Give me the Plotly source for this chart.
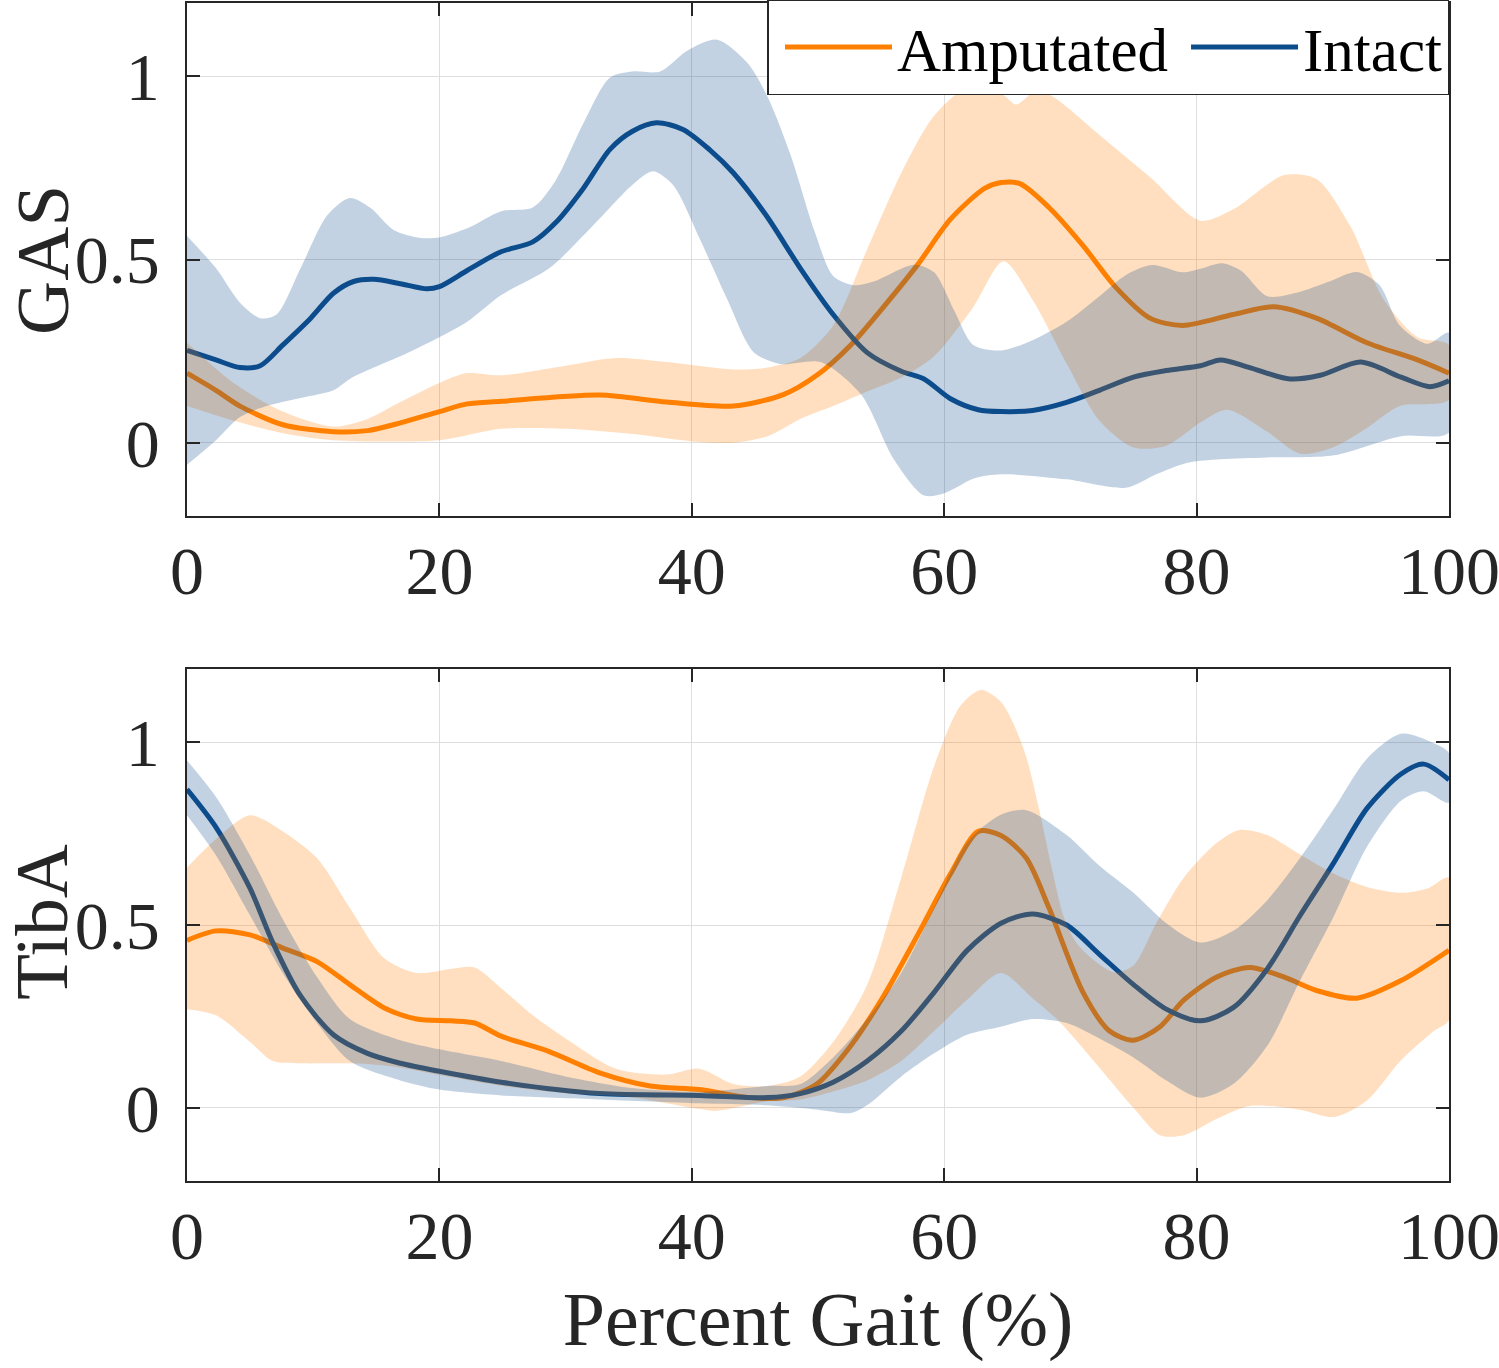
import plotly.graph_objects as go
from plotly.subplots import make_subplots

# ---------------- GAS (top) ----------------
gas_int_x = [0, 2.3, 4.2, 5.8, 7.6, 9.8, 11.6, 13.2, 14.8, 16.9, 19, 20, 22.2, 24.8, 27.4, 29.2, 31.4, 33.5,
             35.3, 37.2, 39.3, 41.4, 43.3, 45.9, 48.6, 51.2, 53.9, 56.6, 58.4, 60.5, 62.7, 64.5, 67, 69.7,
             72.3, 75, 77.6, 80.3, 81.9, 84.2, 87.4, 89.8, 93, 96.2, 98.5, 100]
gas_int_y = [0.252, 0.226, 0.205, 0.21, 0.267, 0.34, 0.408, 0.44, 0.446, 0.434, 0.42, 0.426, 0.47, 0.52,
             0.548, 0.60, 0.694, 0.80, 0.85, 0.873, 0.855, 0.80, 0.736, 0.62, 0.476, 0.35, 0.246, 0.195,
             0.174, 0.12, 0.09, 0.085, 0.088, 0.11, 0.143, 0.179, 0.197, 0.21, 0.226, 0.205, 0.174, 0.184,
             0.22, 0.179, 0.153, 0.169]

gas_int_up_x = [0, 2.3, 4.2, 5.8, 7.1, 9, 11.1, 12.9, 14.5, 16.4, 18.5, 20, 22.2, 24.9, 27.4, 29.2, 31.4,
                33.5, 35.3, 37.5, 39.6, 42, 44.4, 46, 47.8, 49.7, 51.2, 52.8, 54.4, 57.6, 59.2, 60.8, 62.3,
                64.5, 67, 69.7, 72.3, 74.5, 76.5, 78.9, 80.3, 82, 83.5, 85.6, 88, 90.5, 92.7, 94.5, 96.1,
                98.3, 100]
gas_int_up_y = [0.564, 0.476, 0.382, 0.34, 0.35, 0.476, 0.62, 0.668, 0.642, 0.58, 0.559, 0.56, 0.585,
                0.632, 0.642, 0.715, 0.871, 0.996, 1.013, 1.013, 1.069, 1.10, 1.037, 0.944, 0.788, 0.58,
                0.455, 0.43, 0.44, 0.486, 0.465, 0.36, 0.267, 0.252, 0.28, 0.33, 0.40, 0.46, 0.485, 0.465,
                0.475, 0.49, 0.47, 0.40, 0.41, 0.44, 0.466, 0.43, 0.32, 0.27, 0.30]

gas_int_lo_x = [0, 2.3, 4.2, 6.3, 9, 11.6, 12.9, 14.8, 16.9, 20, 22.2, 24.9, 28.7, 32.1, 35.3, 36.9, 38.5,
                40.6, 42.8, 44.9, 47, 50.2, 53.4, 56, 58.4, 60, 62.4, 64.5, 69.7, 74.4, 76.8, 79.2, 81.9,
                85.6, 90.9, 96.2, 100]
gas_int_lo_y = [-0.06, 0.007, 0.07, 0.10, 0.122, 0.143, 0.174, 0.205, 0.236, 0.288, 0.33, 0.403, 0.476,
                0.59, 0.704, 0.741, 0.704, 0.559, 0.392, 0.247, 0.215, 0.22, 0.132, -0.045, -0.144, -0.138,
                -0.097, -0.086, -0.10, -0.123, -0.086, -0.055, -0.045, -0.04, -0.034, 0.018, 0.028]

gas_amp_x = [0, 2.3, 4.2, 7.6, 11.6, 14.3, 16.9, 20, 22.2, 24.9, 32.7, 38, 43.3, 47.3, 49.9, 52.6, 55.2,
             57.9, 60.5, 63.2, 64.5, 66, 68.3, 71, 73.6, 76.3, 78.9, 82.9, 86.1, 89.5, 93.5, 97.5, 100]
gas_amp_y = [0.19, 0.143, 0.10, 0.049, 0.03, 0.033, 0.054, 0.085, 0.106, 0.113, 0.13, 0.111, 0.10, 0.132,
             0.184, 0.267, 0.371, 0.486, 0.61, 0.694, 0.71, 0.707, 0.642, 0.538, 0.424, 0.34, 0.32, 0.35,
             0.371, 0.34, 0.273, 0.226, 0.19]

gas_amp_up_x = [0, 3.7, 7.6, 11.6, 14.3, 16.9, 20, 22.2, 24.9, 30, 34, 38, 43.3, 46, 48.6, 51.2, 53.9,
                56.6, 59.2, 61.9, 64.5, 65.7, 67, 68.3, 72.3, 76.3, 80.3, 82.9, 86.9, 89.5, 92.2, 94.8,
                97.5, 100]
gas_amp_up_y = [0.273, 0.163, 0.085, 0.044, 0.065, 0.111, 0.163, 0.19, 0.184, 0.21, 0.231, 0.22, 0.20,
                0.205, 0.231, 0.32, 0.528, 0.736, 0.892, 0.97, 0.954, 0.923, 0.954, 0.95, 0.84, 0.725,
                0.606, 0.637, 0.73, 0.72, 0.59, 0.392, 0.288, 0.267]

gas_amp_lo_x = [0, 3.7, 7.6, 11.6, 20, 24.9, 30, 35.3, 40.6, 43.3, 46, 48.6, 51.2, 53.9, 56.6, 59.2, 62.3,
                64.7, 67, 69.7, 72.3, 75, 77.6, 80.3, 82.4, 85.6, 88.2, 90.8, 93.5, 96.1, 100]
gas_amp_lo_y = [0.10, 0.06, 0.026, 0.007, 0.007, 0.038, 0.038, 0.024, 0.002, 0.0, 0.018, 0.065, 0.10,
                0.14, 0.178, 0.236, 0.37, 0.495, 0.39, 0.216, 0.06, -0.013, -0.008, 0.055, 0.09, 0.03,
                -0.03, -0.013, 0.04, 0.10, 0.117]

# ---------------- TibA (bottom) ----------------
tib_int_x = [0, 2.3, 5, 6.8, 9, 11.6, 14.3, 16.9, 20, 24.9, 32.7, 40.6, 46, 48.6, 51.2, 53.9, 56.6, 59.2,
             61.8, 64.5, 67, 69.7, 72.3, 75, 77.6, 80.3, 82.9, 85.6, 88.2, 90.9, 93.5, 96.2, 98, 100]
tib_int_y = [0.871, 0.767, 0.60, 0.452, 0.306, 0.20, 0.149, 0.122, 0.10, 0.07, 0.039, 0.034, 0.028, 0.039,
             0.07, 0.128, 0.21, 0.316, 0.43, 0.505, 0.53, 0.50, 0.42, 0.337, 0.27, 0.238, 0.274, 0.38,
             0.526, 0.672, 0.819, 0.913, 0.94, 0.897]

tib_int_up_x = [0, 2.3, 5, 7.6, 10.3, 12.9, 16.9, 20, 24.9, 30, 35.3, 40.6, 46, 48.6, 51.2, 53.9, 56.6,
                59.2, 61.8, 64.4, 66.5, 69.7, 72.3, 75, 77.6, 80.3, 82.9, 85.6, 88.2, 90.9, 93.5, 96.2,
                98.8, 100]
tib_int_up_y = [0.95, 0.85, 0.69, 0.515, 0.358, 0.243, 0.185, 0.16, 0.128, 0.086, 0.054, 0.044, 0.06,
                0.065, 0.138, 0.243, 0.369, 0.547, 0.725, 0.80, 0.814, 0.746, 0.662, 0.588, 0.505, 0.452,
                0.484, 0.568, 0.683, 0.819, 0.955, 1.023, 0.997, 0.97]

tib_int_lo_x = [0, 2.3, 5, 7.6, 10.3, 12.9, 16.9, 20, 24.9, 32.7, 40.6, 46, 50, 52.6, 54, 56.6, 59.2,
                61.8, 64.5, 67, 69.7, 72.3, 75, 77.6, 80.3, 82.9, 85.6, 88.2, 90.9, 93.5, 96.2, 98, 100]
tib_int_lo_y = [0.80, 0.69, 0.526, 0.368, 0.232, 0.128, 0.075, 0.05, 0.034, 0.023, 0.0125, 0.007, -0.005,
                -0.014, 0.01, 0.086, 0.149, 0.20, 0.222, 0.243, 0.232, 0.19, 0.138, 0.075, 0.028, 0.065,
                0.17, 0.348, 0.526, 0.714, 0.84, 0.866, 0.835]

tib_amp_x = [0, 2.3, 5, 7.6, 10.3, 12.9, 15.6, 18.2, 20.9, 22.8, 24.9, 28.7, 32.7, 36.7, 40.6, 44.6,
             47.3, 49.9, 52.6, 55.2, 57.9, 60.5, 62.7, 64.5, 66.5, 68.3, 71, 73.1, 75, 77.1, 79, 81.6,
             84.2, 86.9, 89.5, 92.7, 96.2, 100]
tib_amp_y = [0.458, 0.484, 0.473, 0.437, 0.40, 0.337, 0.274, 0.243, 0.238, 0.232, 0.196, 0.154, 0.096,
             0.06, 0.05, 0.028, 0.028, 0.065, 0.17, 0.306, 0.473, 0.64, 0.756, 0.745, 0.683, 0.547, 0.316,
             0.21, 0.185, 0.222, 0.295, 0.358, 0.384, 0.358, 0.321, 0.30, 0.348, 0.431]

tib_amp_up_x = [0, 2.3, 5, 7.6, 10.3, 12.9, 15.6, 18.2, 20.9, 22.8, 24.9, 27.4, 30, 34, 38, 40.6, 43.3,
                46, 48.6, 51.2, 53.9, 56.6, 59.2, 61.3, 62.9, 64.5, 65.5, 66.5, 67.5, 68.5, 69.5, 70.5,
                72, 73.5, 75, 76.8, 79, 81.6, 83.4, 85.6, 88.2, 90.9, 93.5, 96.2, 98.3, 100]
tib_amp_up_y = [0.657, 0.735, 0.80, 0.756, 0.683, 0.547, 0.41, 0.369, 0.38, 0.384, 0.327, 0.253, 0.19,
                0.107, 0.091, 0.107, 0.065, 0.06, 0.086, 0.18, 0.337, 0.63, 0.934, 1.10, 1.143, 1.11, 1.05,
                0.96, 0.82, 0.66, 0.52, 0.45, 0.40, 0.37, 0.39, 0.505, 0.63, 0.725, 0.76, 0.746, 0.693,
                0.64, 0.604, 0.588, 0.60, 0.63]

tib_amp_lo_x = [0, 2.3, 5, 6.8, 9, 11.6, 14.3, 17, 20, 25, 30, 35, 40.6, 42, 46, 48.6, 51.2, 53.9, 56.6,
                59.2, 61.8, 64.5, 67, 69, 72.3, 75, 77.1, 79, 81.6, 84.2, 88.2, 90.9, 93.5, 96.2, 98.8, 100]
tib_amp_lo_y = [0.27, 0.253, 0.18, 0.128, 0.122, 0.122, 0.12, 0.11, 0.09, 0.06, 0.04, 0.03, -0.003, -0.008,
                0.018, 0.023, 0.045, 0.075, 0.128, 0.21, 0.295, 0.369, 0.30, 0.24, 0.11, 0.0, -0.075,
                -0.075, -0.03, 0.005, -0.005, -0.025, 0.02, 0.13, 0.21, 0.24]

x_ticks = [0, 20, 40, 60, 80, 100]
x_tick_labels = ["0", "20", "40", "60", "80", "100"]
y_ticks = [0, 0.5, 1]
y_tick_labels = ["0", "0.5", "1"]
y_titles = ["GAS", "TibA"]

ORANGE = "rgb(255,128,0)"
ORANGE_F = "rgba(255,128,0,0.25)"
BLUE = "rgb(12,77,140)"
BLUE_F = "rgba(12,77,140,0.25)"
FONT = "Liberation Serif, Times New Roman, serif"
AXC = "#262626"
LW = 5

fig = make_subplots(rows=2, cols=1, vertical_spacing=0.13)


def band(xu, yu, xl, yl, color, row):
    fig.add_trace(go.Scatter(x=list(xu) + list(xl)[::-1], y=list(yu) + list(yl)[::-1],
                             mode="lines", fill="toself", fillcolor=color,
                             line=dict(width=0, shape="spline", smoothing=0.8),
                             hoverinfo="skip", showlegend=False), row=row, col=1)


# lines first (bands are drawn on top, semi-transparent)
fig.add_trace(go.Scatter(x=gas_amp_x, y=gas_amp_y, mode="lines", name="Amputated",
                         line=dict(color=ORANGE, width=LW, shape="spline", smoothing=0.8),
                         legendgroup="a"), row=1, col=1)
fig.add_trace(go.Scatter(x=gas_int_x, y=gas_int_y, mode="lines", name="Intact",
                         line=dict(color=BLUE, width=LW, shape="spline", smoothing=0.8),
                         legendgroup="b"), row=1, col=1)
fig.add_trace(go.Scatter(x=tib_amp_x, y=tib_amp_y, mode="lines", name="Amputated",
                         line=dict(color=ORANGE, width=LW, shape="spline", smoothing=0.8),
                         showlegend=False), row=2, col=1)
fig.add_trace(go.Scatter(x=tib_int_x, y=tib_int_y, mode="lines", name="Intact",
                         line=dict(color=BLUE, width=LW, shape="spline", smoothing=0.8),
                         showlegend=False), row=2, col=1)

band(gas_amp_up_x, gas_amp_up_y, gas_amp_lo_x, gas_amp_lo_y, ORANGE_F, 1)
band(gas_int_up_x, gas_int_up_y, gas_int_lo_x, gas_int_lo_y, BLUE_F, 1)
band(tib_amp_up_x, tib_amp_up_y, tib_amp_lo_x, tib_amp_lo_y, ORANGE_F, 2)
band(tib_int_up_x, tib_int_up_y, tib_int_lo_x, tib_int_lo_y, BLUE_F, 2)

axis_common = dict(showline=True, linecolor=AXC, linewidth=1.5, mirror="ticks",
                   ticks="inside", ticklen=13, tickwidth=1.5, tickcolor=AXC,
                   showgrid=True, gridcolor="#dedede", gridwidth=1.2, zeroline=False,
                   automargin=False,
                   tickfont=dict(family=FONT, size=68, color=AXC))

for r in (1, 2):
    fig.update_xaxes(range=[0, 100], tickvals=x_ticks, ticktext=x_tick_labels,
                     ticklabelstandoff=-5, ticklabeloverflow="allow", row=r, col=1, **axis_common)
    fig.update_yaxes(range=[-0.2, 1.2], tickvals=y_ticks, ticktext=y_tick_labels,
                     ticklabelstandoff=12, row=r, col=1, **axis_common)

fig.update_xaxes(title=dict(text="Percent Gait (%)", font=dict(family=FONT, size=76, color=AXC),
                            standoff=18), row=2, col=1)

# y-axis titles (rotated), centred on each panel
for title, ymid in zip(y_titles, [0.7818, 0.2199]):
    fig.add_annotation(text=title, textangle=-90, xref="paper", yref="paper",
                       x=-0.1150, y=ymid, xanchor="center", yanchor="middle", showarrow=False,
                       font=dict(family=FONT, size=75, color=AXC))

fig.update_layout(
    width=1499, height=1368,
    margin=dict(l=187, r=50, t=3, b=187, autoexpand=False),
    paper_bgcolor="white", plot_bgcolor="white",
    font=dict(family=FONT, color=AXC),
    legend=dict(orientation="h", x=1, xanchor="right", y=1.003, yanchor="top",
                bgcolor="white", bordercolor=AXC, borderwidth=1.5,
                font=dict(family=FONT, size=61, color="black"),
                itemwidth=107, tracegroupgap=9, indentation=13),
)
fig.layout.yaxis.domain = [0.5645, 1.0]
fig.layout.yaxis2.domain = [0.0, 0.4346]

fig.write_html("out.html", config={"displayModeBar": False},
               post_script="document.body.style.margin='0px';")
